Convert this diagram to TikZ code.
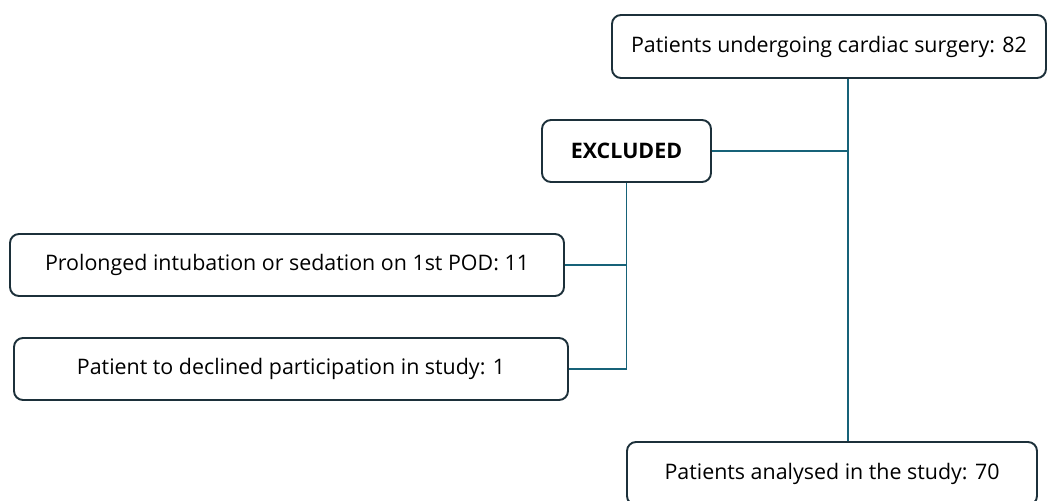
\documentclass[tikz,border=0pt]{standalone}
\usepackage{fontspec}
\setmainfont{Open Sans}
\usepackage{tikz}
\usetikzlibrary{calc}

\definecolor{linkcol}{RGB}{22,98,120}
\definecolor{edgecol}{RGB}{28,48,58}

\begin{document}
\begin{tikzpicture}[x=1pt,y=-1pt,
  box/.style={draw=edgecol,line width=1.9pt,rounded corners=9pt,fill=white,
    inner sep=0pt,font=\fontsize{21.4}{25}\selectfont},
  link/.style={draw=linkcol,line width=1.9pt}]

\useasboundingbox (0,0) rectangle (1048,500);

%top
\node[box,minimum width=434pt,minimum height=63pt] (top) at (829,46.5) {Patients undergoing cardiac surgery: 82};

%excluded
\node[box,minimum width=169pt,minimum height=62pt,font=\fontsize{21.4}{25}\selectfont\bfseries] (excl) at (626.5,151) {EXCLUDED};
\node[box,minimum width=554pt,minimum height=62pt] (pro) at (287,265) {Prolonged intubation or sedation on 1st POD: 11};
\node[box,minimum width=554pt,minimum height=62pt] (dec) at (291,369) {Patient to declined participation in study: 1};

%analysed
\node[box,minimum width=410pt,minimum height=63pt] (ana) at (832,473.5) {Patients analysed in the study: 70};

\coordinate (trunk) at (848,151);

\draw[link] (top.south -| trunk) -- (ana.north -| trunk);
\draw[link] (excl.east) -- (trunk);
\draw[link] (excl.south) |- (dec.east);
\draw[link] (pro.east) -- (pro.east -| excl.south);

\end{tikzpicture}
\end{document}
